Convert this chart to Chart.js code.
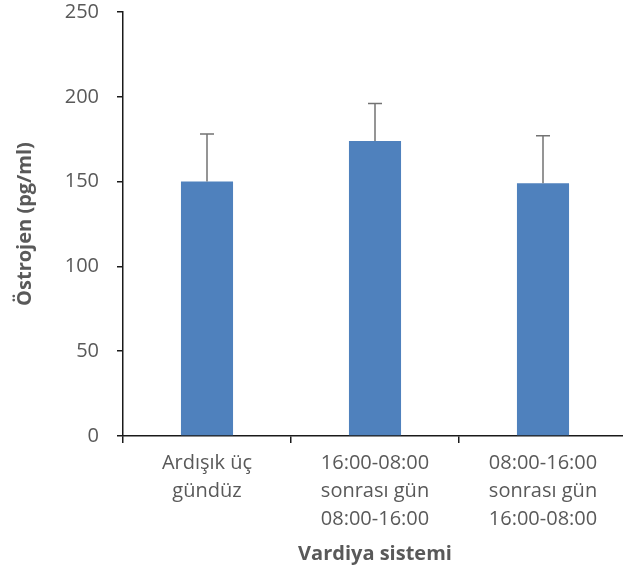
<!DOCTYPE html>
<html>
<head>
<meta charset="utf-8">
<script src="https://cdn.jsdelivr.net/npm/chart.js@4"></script>
<style>
html,body{margin:0;padding:0;background:#fff;overflow:hidden;width:623px;height:577px;}
canvas{display:block;}
</style>
</head>
<body>
<canvas id="c" width="640" height="577"></canvas>
<script>
const categories = [["Ardışık üç","gündüz"],["16:00-08:00","sonrası gün","08:00-16:00"],["08:00-16:00","sonrası gün","16:00-08:00"]];
const values = [150, 174, 149];
const errorUpper = [178, 196, 177];
const yTicks = [0, 50, 100, 150, 200, 250];

const FONT = "'Open Sans', 'Noto Sans', sans-serif";
const GREY = '#595959';

const errorBars = {
  id: 'errorBars',
  afterDatasetsDraw(chart) {
    const ctx = chart.ctx;
    const meta = chart.getDatasetMeta(0);
    const y = chart.scales.y;
    ctx.save();
    ctx.strokeStyle = '#737373';
    ctx.lineWidth = 1.5;
    meta.data.forEach((bar, i) => {
      const x = bar.x;
      const yb = y.getPixelForValue(values[i]);
      const yt = y.getPixelForValue(errorUpper[i]);
      ctx.beginPath();
      ctx.moveTo(x, yb);
      ctx.lineTo(x, yt);
      ctx.moveTo(x - 7, yt);
      ctx.lineTo(x + 7, yt);
      ctx.stroke();
    });
    ctx.restore();
  }
};

new Chart(document.getElementById('c'), {
  type: 'bar',
  data: {
    labels: categories,
    datasets: [{
      data: values,
      backgroundColor: '#4F81BD',
      borderWidth: 0,
      barPercentage: 0.62,
      categoryPercentage: 0.5
    }]
  },
  options: {
    responsive: false,
    animation: false,
    layout: { padding: { top: 12, right: 13, left: 9, bottom: 7 } },
    plugins: { legend: { display: false }, tooltip: { enabled: false } },
    scales: {
      x: {
        offset: true,
        grid: { display: true, drawOnChartArea: false, drawTicks: true, tickLength: 7, color: '#1a1a1a', offset: true, lineWidth: 1.5 },
        border: { display: true, color: '#1a1a1a', width: 1.5 },
        ticks: { color: GREY, font: { family: FONT, size: 20, lineHeight: 1.4 }, padding: 6, maxRotation: 0, autoSkip: false },
        title: { display: true, text: 'Vardiya sistemi', color: GREY, font: { family: FONT, size: 20, weight: 'bold' }, padding: { top: 2, bottom: 4 } },
        afterFit(scale) { scale.height = 134; scale.paddingLeft = 0; scale.paddingRight = 0; }
      },
      y: {
        min: 0, max: 250,
        afterBuildTicks(scale) { scale.ticks = yTicks.map(v => ({ value: v })); },
        grid: { display: true, drawOnChartArea: false, drawTicks: true, tickLength: 6, color: '#1a1a1a', lineWidth: 1.5 },
        border: { display: true, color: '#1a1a1a', width: 1.5 },
        ticks: { color: GREY, font: { family: FONT, size: 20 }, padding: 18 },
        title: { display: true, text: 'Östrojen (pg/ml)', color: GREY, font: { family: FONT, size: 20, weight: 'bold' }, padding: { top: 4, bottom: 4 } },
        afterFit(scale) { scale.width = 114; scale.paddingTop = 0; scale.paddingBottom = 0; }
      }
    }
  },
  plugins: [errorBars]
});
</script>
</body>
</html>
